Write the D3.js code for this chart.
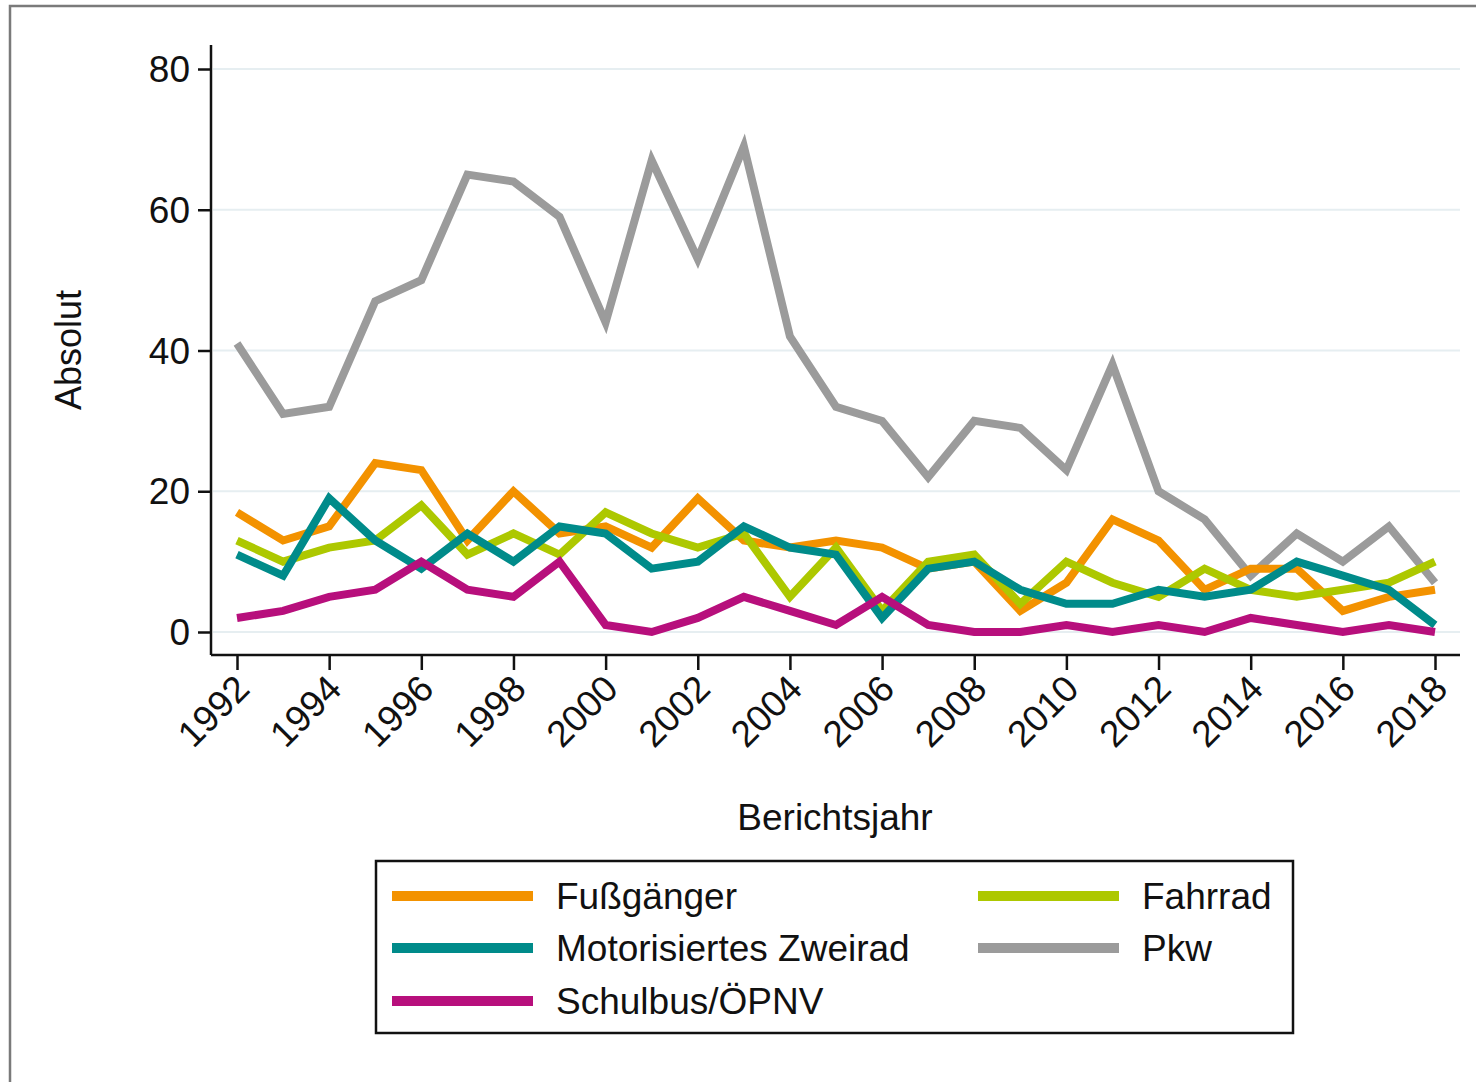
<!DOCTYPE html>
<html>
<head>
<meta charset="utf-8">
<script src="https://cdn.jsdelivr.net/npm/d3@7"></script>
<style>
  body { margin: 0; background: #fff; }
  text { font-family: "Liberation Sans", Arial, Helvetica, sans-serif; fill: #111; }
</style>
</head>
<body>
<svg id="chart" width="1476" height="1082"></svg>
<script>
// Berichtsjahre
var years = d3.range(1992, 2019);

var fussgaenger = [17,13,15,24,23,13,20,14,15,12,19,13,12,13,12,9,10,3,7,16,13,6,9,9,3,5,6];
var fahrrad     = [13,10,12,13,18,11,14,11,17,14,12,14,5,12,3,10,11,4,10,7,5,9,6,5,6,7,10];
var zweirad     = [11,8,19,13,9,14,10,15,14,9,10,15,12,11,2,9,10,6,4,4,6,5,6,10,8,6,1];
var pkw         = [41,31,32,47,50,65,64,59,44,67,53,69,42,32,30,22,30,29,23,38,20,16,8,14,10,15,7];
var schulbus    = [2,3,5,6,10,6,5,10,1,0,2,5,3,1,5,1,0,0,1,0,1,0,2,1,0,1,0];

var yTicks = [0, 20, 40, 60, 80];
var xTicks = d3.range(1992, 2019, 2);

var series = [
    {name: "Fußgänger", values: fussgaenger, color: "#f39200"},
    {name: "Fahrrad", values: fahrrad, color: "#adc800"},
    {name: "Motorisiertes Zweirad", values: zweirad, color: "#008b8a"},
    {name: "Pkw", values: pkw, color: "#9b9b9b"},
    {name: "Schulbus/ÖPNV", values: schulbus, color: "#b70f7c"}
];

// drawing order (pkw first so that it sits below the others)
var drawOrder = ["Pkw", "Fußgänger", "Fahrrad", "Motorisiertes Zweirad", "Schulbus/ÖPNV"];

var svg = d3.select("#chart");

// outer frame
svg.append("rect")
    .attr("x", 10).attr("y", 6)
    .attr("width", 1480).attr("height", 1090)
    .attr("fill", "none")
    .attr("stroke", "#7a7a7a")
    .attr("stroke-width", 2.5);

var x = d3.scaleLinear().domain([1992, 2018]).range([237, 1435]);
var y = d3.scaleLinear().domain([0, 80]).range([632, 69]);

var axisLeft = 211, axisBottom = 655, plotRight = 1460, plotTop = 45;

// gridlines
svg.append("g").selectAll("line")
    .data(yTicks)
    .enter().append("line")
    .attr("x1", axisLeft + 2).attr("x2", plotRight)
    .attr("y1", function(d) { return y(d); })
    .attr("y2", function(d) { return y(d); })
    .attr("stroke", "#e6eef1")
    .attr("stroke-width", 2);

// lines
var line = d3.line()
    .x(function(d, i) { return x(years[i]); })
    .y(function(d) { return y(d); });

svg.append("g").selectAll("path")
    .data(drawOrder.map(function(n) { return series.find(function(s) { return s.name == n; }); }))
    .enter().append("path")
    .attr("d", function(s) { return line(s.values); })
    .attr("fill", "none")
    .attr("stroke", function(s) { return s.color; })
    .attr("stroke-width", 8)
    .attr("stroke-linejoin", "miter")
    .attr("stroke-linecap", "butt");

// y axis
var yAxis = svg.append("g")
    .attr("transform", "translate(" + axisLeft + ",0)")
    .call(d3.axisLeft(y).tickValues(yTicks).tickSize(13).tickPadding(8).tickSizeOuter(0));
yAxis.select(".domain").attr("d", "M0," + plotTop + "V" + axisBottom);
yAxis.selectAll("line").attr("stroke", "#111").attr("stroke-width", 2.5);
yAxis.select(".domain").attr("stroke", "#111").attr("stroke-width", 2.5);
yAxis.selectAll("text")
    .style("font-size", "37px")
    .style("font-family", "Liberation Sans, Arial, sans-serif")
    .attr("dy", "0.34em")
    .attr("fill", "#111");

// x axis
var xAxis = svg.append("g")
    .attr("transform", "translate(0," + axisBottom + ")")
    .call(d3.axisBottom(x).tickValues(xTicks).tickFormat(d3.format("d")).tickSize(15).tickSizeOuter(0));
xAxis.select(".domain").attr("d", "M" + axisLeft + ",0H" + plotRight);
xAxis.selectAll("line").attr("stroke", "#111").attr("stroke-width", 2.5);
xAxis.select(".domain").attr("stroke", "#111").attr("stroke-width", 2.5);
xAxis.selectAll("text")
    .attr("y", 0).attr("dy", 0)
    .attr("transform", "translate(14,36) rotate(-45)")
    .style("text-anchor", "end")
    .style("font-size", "37px")
    .style("font-family", "Liberation Sans, Arial, sans-serif")
    .attr("fill", "#111");

// axis titles
svg.append("text")
    .attr("x", 835).attr("y", 830)
    .attr("text-anchor", "middle")
    .style("font-size", "37px")
    .text("Berichtsjahr");

svg.append("text")
    .attr("transform", "translate(81,350) rotate(-90)")
    .attr("text-anchor", "middle")
    .style("font-size", "36px")
    .text("Absolut");

// legend
var legend = svg.append("g");
legend.append("rect")
    .attr("x", 376).attr("y", 861)
    .attr("width", 917).attr("height", 172)
    .attr("fill", "#fff")
    .attr("stroke", "#111")
    .attr("stroke-width", 2.5);

var legendItems = [
    {name: "Fußgänger", col: 0, row: 0},
    {name: "Fahrrad", col: 1, row: 0},
    {name: "Motorisiertes Zweirad", col: 0, row: 1},
    {name: "Pkw", col: 1, row: 1},
    {name: "Schulbus/ÖPNV", col: 0, row: 2}
];
var colX = [392, 978], rowY = [896, 948, 1001];

var li = legend.selectAll("g.item")
    .data(legendItems)
    .enter().append("g")
    .attr("class", "item")
    .attr("transform", function(d) { return "translate(" + colX[d.col] + "," + rowY[d.row] + ")"; });

li.append("line")
    .attr("x1", 0).attr("x2", 141)
    .attr("stroke", function(d) { return series.find(function(s) { return s.name == d.name; }).color; })
    .attr("stroke-width", 10);

li.append("text")
    .attr("x", 164).attr("y", 13)
    .style("font-size", "37px")
    .text(function(d) { return d.name; });
</script>
</body>
</html>
